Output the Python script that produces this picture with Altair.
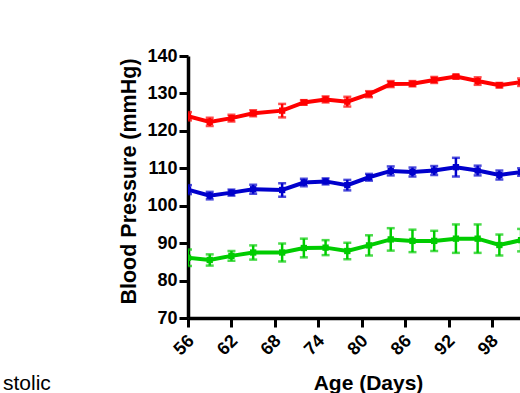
import altair as alt
import pandas as pd

days = [56, 59, 62, 65, 69, 72, 75, 78, 81, 84, 87, 90, 93, 96, 99, 102]
systolic = [123.9, 122.4, 123.4, 124.7, 125.4, 127.6, 128.4, 127.8, 129.8, 132.5, 132.6, 133.6, 134.5, 133.3, 132.2, 133.0]
systolic_err = [1.1, 1.1, 0.9, 0.8, 1.8, 0.6, 0.8, 1.3, 0.8, 0.8, 0.7, 0.8, 0.5, 1.0, 0.6, 1.0]
mean_ap = [104.3, 102.7, 103.5, 104.4, 104.2, 106.2, 106.5, 105.5, 107.6, 109.3, 109.0, 109.4, 110.3, 109.4, 108.2, 109.0]
mean_ap_err = [1.2, 1.0, 0.8, 1.2, 1.8, 1.0, 0.8, 1.4, 0.9, 1.2, 1.2, 1.2, 2.5, 1.3, 1.2, 1.0]
diastolic = [86.1, 85.5, 86.6, 87.5, 87.5, 88.7, 88.8, 87.9, 89.4, 91.0, 90.6, 90.6, 91.2, 91.2, 89.5, 90.8]
diastolic_err = [2.2, 1.5, 1.3, 1.9, 2.4, 2.5, 2.0, 2.2, 2.7, 3.0, 3.0, 2.7, 3.8, 3.8, 2.8, 3.0]

series_names = ["Systolic", "Mean", "Diastolic"]
series_colors = ["#ff0000", "#0000cc", "#00cc00"]
x_ticks = [56, 62, 68, 74, 80, 86, 92, 98, 104]
y_ticks = [70, 80, 90, 100, 110, 120, 130, 140]

rows = []
for name, vals, errs in zip(series_names, [systolic, mean_ap, diastolic],
                            [systolic_err, mean_ap_err, diastolic_err]):
    for d, v, e in zip(days, vals, errs):
        rows.append({"day": d, "series": name, "bp": v, "lo": v - e, "hi": v + e})
df = pd.DataFrame(rows)

FONT = "Liberation Sans"

x_scale = alt.Scale(domain=[56, 101.85], nice=False, zero=False)
y_scale = alt.Scale(domain=[70, 140], nice=False, zero=False)

x = alt.X("day:Q", scale=x_scale,
          axis=alt.Axis(values=x_ticks, tickCount=30, labelAngle=-45, labelAlign="right",
                        labelBaseline="middle", labelPadding=11, labelOffset=3,
                        title="Age (Days)", titleX=180, titleY=71, titleFontSize=21,
                        titleAlign="center", titleBaseline="alphabetic"))
y = alt.Y("bp:Q", scale=y_scale,
          axis=alt.Axis(values=y_ticks, tickCount=30, labelPadding=2,
                        title="Blood Pressure (mmHg)", titleAngle=-90, titleX=-59, titleY=125,
                        titleAlign="center", titleBaseline="middle"))
color = alt.Color("series:N", scale=alt.Scale(domain=series_names, range=series_colors),
                  legend=None)

base = alt.Chart(df)
lines = base.mark_line(strokeWidth=4, clip=True).encode(x=x, y=y, color=color, detail="series:N")
points = base.mark_point(filled=True, shape="square", size=40, opacity=1, clip=True).encode(
    x=alt.X("day:Q", scale=x_scale), y=alt.Y("bp:Q", scale=y_scale), color=color)
rules = base.mark_rule(strokeWidth=2.5, clip=True).encode(
    x=alt.X("day:Q", scale=x_scale), y=alt.Y("lo:Q", scale=y_scale), y2="hi:Q", color=color)
caps_lo = base.mark_tick(orient="horizontal", size=8, thickness=2.5, clip=True).encode(
    x=alt.X("day:Q", scale=x_scale), y=alt.Y("lo:Q", scale=y_scale), color=color)
caps_hi = base.mark_tick(orient="horizontal", size=8, thickness=2.5, clip=True).encode(
    x=alt.X("day:Q", scale=x_scale), y=alt.Y("hi:Q", scale=y_scale), color=color)

legend_text = alt.Chart(pd.DataFrame({"t": ["stolic"]})).mark_text(
    align="left", baseline="alphabetic", font=FONT, fontSize=21, color="black"
).encode(text="t:N", x=alt.value(-185), y=alt.value(334))

chart = alt.layer(lines, rules, caps_lo, caps_hi, points, legend_text).properties(
    width=332, height=262,
    autosize=alt.AutoSizeParams(type="none"),
    padding={"left": 188, "top": 56, "right": 0, "bottom": 75},
    background="white",
).configure_view(stroke=None).configure_axis(
    labelFont=FONT, labelFontSize=18, labelFontWeight="bold", labelColor="black",
    labelOverlap=False, labelFlush=False,
    tickSize=9, tickWidth=3, tickColor="black",
    domainWidth=3.5, domainColor="black", grid=False,
    titleFont=FONT, titleFontSize=21.5, titleFontWeight="bold", titleColor="black",
)

chart.save("out.html", embed_options={"renderer": "svg", "actions": False})
